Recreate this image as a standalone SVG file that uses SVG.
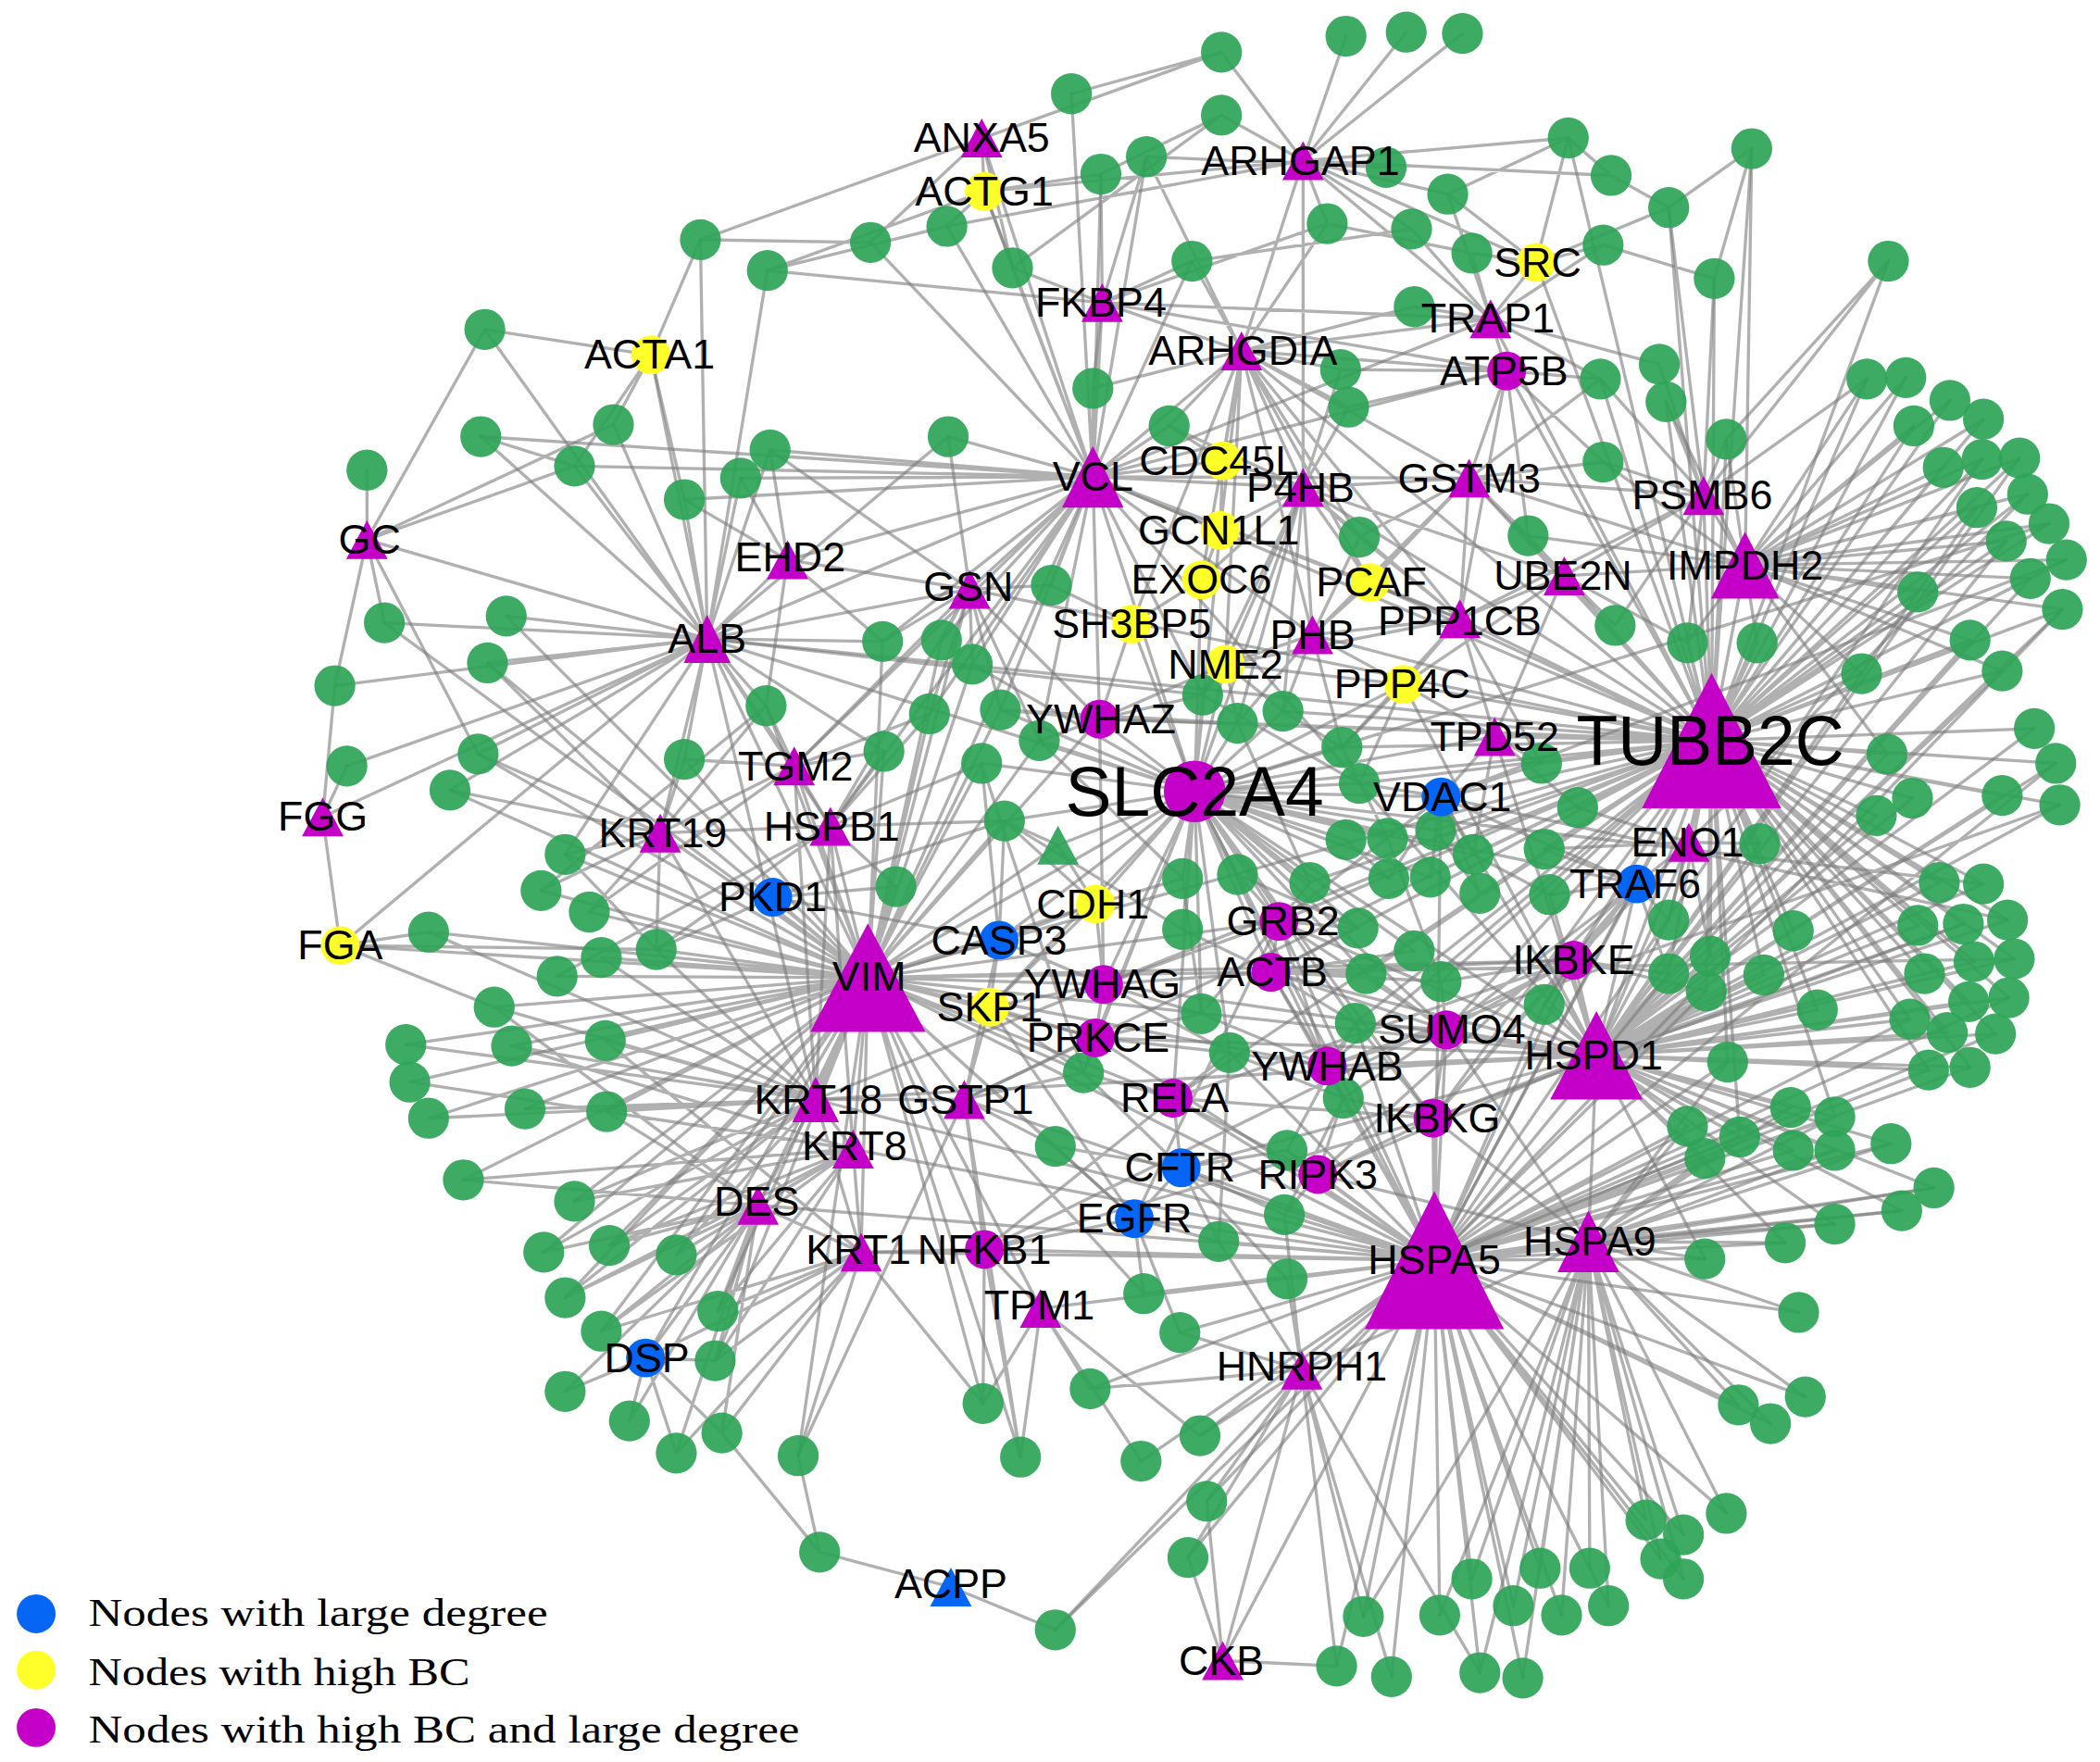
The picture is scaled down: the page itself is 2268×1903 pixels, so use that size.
<svg xmlns="http://www.w3.org/2000/svg" width="2268" height="1903" viewBox="0 0 2268 1903">
<style>
.e{fill:none;stroke:#7c7c7c;stroke-opacity:.6;stroke-width:2.3;stroke-linejoin:round;stroke-linecap:round}
.g{fill:#2ea457;fill-opacity:.92}
.m{fill:#c400c8}
.y{fill:#ffff2a}
.b{fill:#0565f5}
.t{font-family:"Liberation Sans",Arial,sans-serif;font-size:31px;text-anchor:middle;fill:#000}
.big{font-size:52px}
.lg{font-family:"Liberation Serif","Times New Roman",serif;font-size:29px;fill:#000}
</style>
<rect width="2268" height="1903" fill="#fff"/>
<g transform="scale(1.4464)">
<g id="edges" class="e">
<path id="e-TUBB2C" d="M1308 111L1278 553L1280 208M1410 195L1278 553L1244 300M1289 328L1278 553L1260 480M1312 480L1278 553L1394 283M1423 282L1278 553L1456 299M1481 313L1278 553L1429 318M1451 349L1278 553L1480 343M1508 342L1278 553L1514 369M1476 379L1278 553L1530 391M1498 404L1278 553L1543 418M1516 432L1278 553L1540 455M1432 442L1278 553L1471 478M1495 501L1278 553L1390 503M1519 544L1278 553L1535 570M1409 563L1278 553L1495 594M1538 601L1278 553L1428 596M1401 609L1278 553L1151 570M1178 603L1278 553L1153 634M1314 630L1278 553L1246 687M1339 695L1278 553L1277 714M1317 728L1278 553L1357 754M1448 659L1278 553L1481 660M1432 691L1278 553L1466 690M1499 687L1278 553L1437 727M1474 718L1278 553L1504 716M1470 748L1278 553L1500 745M1454 771L1278 553L1490 772M1440 799L1278 553L1002 558M1015 585L1278 553L1157 668M1100 638L1278 553L1072 620M1261 629L1278 553L1222 660M1116 550L1278 553L1303 422M1272 370L1278 553L1076 595M1048 511L1278 553L892 591M1125 277L1278 553L1168 430M1175 717L1278 553L1080 769M1192 788L1278 553L1071 941M949 726L1278 553L955 688M648 730L1278 553L821 537M1090 462L1278 553L1097 357M1113 238L1278 553L1147 196M528 477L1278 553L724 440M1195 283L1278 553L1246 155M1171 103L1278 553L1471 797M1426 761L1278 553M876 820L1278 553L1070 835M991 796L1278 553L824 735M924 540L1278 553L958 531M978 659L1278 553L1020 727M1076 733L1278 553L1012 764M1153 750L1278 553L1246 727M1274 740L1278 553L1290 793M1370 834L1278 553L1299 849M980 474L1278 553L1023 435M927 262L1278 553L973 364M816 356L1278 553L720 821M609 821L1278 553"/>
<path id="e-HSPD1" d="M1448 659L1192 788L1481 660M1432 691L1192 788L1466 690M1499 687L1192 788L1437 727M1474 718L1192 788L1504 716M1470 748L1192 788L1500 745M1426 761L1192 788L1454 771M1490 772L1192 788L1440 799M1471 797L1192 788L1370 834M1299 849L1192 788L1339 859M1370 859L1192 788L1412 854M1444 887L1192 788L1420 904M1274 740L1192 788L1246 727M1357 754L1192 788L1290 793M1337 827L1192 788L1153 750M1157 668L1192 788L1246 687M1498 404L1192 788L1516 432M1540 455L1192 788L1471 478M1495 501L1192 788L1519 544M1535 570L1192 788L1495 594M1538 601L1192 788L1314 630M1339 695L1192 788L1175 717M1080 769L1192 788L1070 835M1222 660L1192 788L1261 629M991 796L1192 788L949 726M955 688L1192 788L1076 595M1186 927L1192 788L984 877M892 591L1192 788L824 735M648 730L1192 788L818 775M882 872L1192 788L1277 714M1317 728L1192 788M1333 928L1192 788L1273 940M1370 914L1192 788L1273 865M1260 841L1192 788L1508 342M1476 379L1192 788L1432 442M1390 503L1192 788L1409 563M1428 596L1192 788L1401 609M1116 550L1192 788L1048 511M816 356L1192 788L609 821"/>
<path id="e-HSPA5" d="M1289 1130L1071 941L1229 1135M1257 1146L1071 941L1240 1164M1257 1179L1071 941L1099 1179M1150 1171L1071 941L1187 1171M1018 1207L1071 941L1075 1206M1130 1199L1071 941L1166 1206M1201 1199L1071 941L998 1244M1039 1252L1071 941L1105 1249M1137 1253L1071 941L1298 1049M1322 1063L1071 941L1348 1043M1343 980L1071 941L1273 940M1333 928L1071 941L1370 914M1273 865L1071 941L1260 841M961 859L1071 941L959 907M910 927L1071 941L961 955M854 966L1071 941L881 995M814 1037L1071 941L896 1072M852 1091L1071 941L901 1121M887 1163L1071 941L1003 820M918 786L1071 941L1012 764M972 1023L1071 941L1186 927M984 877L1071 941L1070 835M991 796L1071 941L882 872M847 910L1071 941L735 933M876 820L1071 941L777 977M643 935L1071 941L637 858M892 591L1071 941L949 726M913 1240L1071 941L1080 769M955 688L1071 941L648 730M609 821L1071 941L566 900M720 821L1071 941L818 775M1426 761L1071 941L1440 799M1471 797L1071 941L1370 834M1412 854L1071 941L788 1217M1339 859L1071 941L1370 859M1444 887L1071 941L1420 904M1290 793L1071 941L1337 827M1299 849L1071 941L1175 717M1222 660L1071 941L1076 595M1153 750L1071 941L1274 740M1246 727L1071 941"/>
<path id="e-HSPA9" d="M1289 1130L1186 927L1229 1135M1257 1146L1186 927L1240 1164M1257 1179L1186 927L1099 1179M1150 1171L1186 927L1187 1171M1018 1207L1186 927L1075 1206M1130 1199L1186 927L1166 1206M1201 1199L1186 927L1298 1049M1322 1063L1186 927L1348 1043M1343 980L1186 927L1333 928M1370 914L1186 927L1273 940M1444 887L1186 927L1420 904M1370 859L1186 927L1412 854M1370 834L1186 927L1273 865M1299 849L1186 927L1260 841M1337 827L1186 927L1290 793M972 1023L1186 927L1070 835M984 877L1186 927L1080 769M1105 1249L1186 927L1137 1253"/>
<path id="e-VIM" d="M422 638L648 730L404 665M440 681L648 730L320 696M449 715L648 730L416 729M490 709L648 730L669 662M369 752L648 730L382 781M452 777L648 730L392 828M453 830L648 730L429 897M455 930L648 730L505 937M303 780L648 730L306 808M733 570L648 730L660 561M750 613L648 730L694 533M572 527L648 730L511 567M747 530L648 730L726 496M703 478L648 730L659 479M776 553L648 730L788 856M609 821L648 730L637 858M493 622L648 730L643 935M566 900L648 730L620 617M593 572L648 730L720 821M577 670L648 730L746 702M739 752L648 730L824 735M818 775L648 730L482 1014M892 591L648 730L724 440M528 477L648 730L816 356M818 675L648 730L821 537M735 933L648 730L777 977M790 631L648 730L254 706M847 910L648 730L876 820M949 726L648 730L809 801M536 979L648 730M357 563L648 730L336 590M364 495L648 730L378 460M287 465L648 730L406 935M422 969L648 730L449 994M346 881L648 730L534 1016M596 1087L648 730L734 1048M762 1088L648 730L955 688M991 796L648 730L1175 717"/>
<path id="e-ALB" d="M523 179L528 477L573 202M458 317L528 477L359 326M429 348L528 477L511 373M553 357L528 477L575 336M708 326L528 477L287 465M378 460L528 477L364 495M250 512L528 477L572 527M357 563L528 477L511 567M659 479L528 477L362 246M336 590L528 477L259 572M274 403L528 477L486 265M588 418L528 477L593 572M493 622L528 477L620 617M241 610L528 477L254 706M724 440L528 477L816 356M609 821L528 477L660 561M422 638L528 477L898 519"/>
<path id="e-VCL" d="M800 70L816 356L822 130M856 117L816 356L707 169M650 181L816 356L756 200M816 290L816 356L873 318M708 326L816 356L575 336M553 357L816 356L511 373M890 195L816 356L659 479M703 478L816 356L726 496M747 530L816 356L694 533M785 437L816 356L429 348M359 326L816 356L823 226M927 262L816 356L733 103M735 143L816 356L913 344M911 396L816 356L724 440M892 591L816 356L588 418M593 572L816 356L620 617M821 537L816 356L973 364M898 519L816 356L776 553M1023 435L816 356L980 474M1090 462L816 356L1097 357M1125 277L816 356L1113 238"/>
<path id="e-SLC2A4" d="M898 519L892 591L924 540M958 531L892 591L1002 558M1015 585L892 591L1005 627M1036 626L892 591L883 656M924 653L892 591L978 659M883 694L892 591L1014 693M897 757L892 591L918 786M776 553L892 591L750 613M733 570L892 591L747 530M726 496L892 591L821 537M915 496L892 591L824 735M818 675L892 591L955 688M949 726L892 591L818 775M1076 595L892 591L746 702M790 631L892 591L845 466M897 433L892 591L739 752M876 820L892 591L1048 511M1116 550L892 591L991 796M1072 620L892 591L1100 638M1037 656L892 591L1068 655M1020 727L892 591L1056 710M1012 764L892 591L809 801M1070 835L892 591L1080 769M1222 660L892 591L528 477M973 364L892 591L911 396"/>
<path id="e-IMPDH2" d="M1394 283L1303 422L1423 282M1456 299L1303 422L1481 313M1429 318L1303 422L1451 349M1480 343L1303 422L1508 342M1514 369L1303 422L1476 379M1530 391L1303 422L1498 404M1543 418L1303 422L1516 432M1540 455L1303 422L1432 442M1471 478L1303 422L1495 501M1390 503L1303 422L1289 328M1260 480L1303 422L1312 480M1197 345L1303 422L1141 400M1409 563L1303 422L1272 370M1168 430L1303 422L1097 357M1244 300L1303 422L1308 111"/>
<path id="e-top" d="M912 39L973 120L1005 27M1050 24L973 120L1092 25M1035 125L973 120L1081 145M991 167L973 120L1054 171M912 86L973 120L1203 131M1171 103L973 120L735 143M1147 196L973 120L927 262M973 364L973 120L1113 238M707 169L735 143L756 200M822 130L735 143L733 103M573 202L735 143M650 181L733 103L756 200M523 179L912 39M573 202L823 226M707 169L973 120M890 195L927 262L991 167M1001 276L927 262L1007 304M816 290L927 262L873 318M856 117L927 262L1015 401M1056 229L927 262L1125 277M1113 238L927 262L823 226M973 364L927 262L913 344M911 396L927 262L1023 435M980 474L927 262L1090 462M845 466L927 262L897 433M915 496L927 262L1097 357M756 200L823 226L890 195M822 130L823 226L856 117M816 290L823 226L991 167M1113 238L823 226L1125 277M1099 189L1113 238L1054 171M1056 229L1113 238L1197 183M1195 283L1113 238L1239 272M1147 196L1113 238L1125 277M1081 145L1113 238M1001 276L1125 277L1007 304M1195 283L1125 277L1197 345M1141 400L1125 277L1097 357M1090 462L1125 277M1001 276L973 364L1007 304M1015 401L973 364L873 318M913 344L973 364L911 396M897 433L973 364L1023 435M980 474L973 364L915 496M1090 462L973 364L1168 430M1097 357L973 364L898 519M924 540L973 364L958 531M1197 345L1097 357L1141 400M1195 283L1097 357L1015 401M1090 462L1097 357L1168 430M1023 435L1097 357L980 474M1206 467L1097 357L1272 370M1289 328L1272 370L1244 300M1197 345L1272 370L1195 283M1239 272L1272 370L1246 155M1280 208L1272 370L1410 195M1206 467L1272 370L1260 480M1168 430L1272 370L1090 462M1394 283L1272 370M1141 400L1168 430L1206 467M1260 480L1168 430L1090 462M1048 511L1168 430L1116 550M1015 401L1090 462L1023 435M980 474L1090 462L1048 511M1116 550L1090 462L1002 558M1151 570L1090 462L915 496M1015 401L980 474L915 496M924 540L980 474L958 531M1023 435L980 474L1048 511M1002 558L980 474M1099 189L1147 196L1197 183M1246 155L1147 196L1081 145M1171 103L1147 196M1410 195L1289 328M1308 111L1246 155M1308 111L1280 208M1171 103L1203 131M873 318L913 344L911 396M911 396L897 433L845 466M785 437L845 466M523 179L650 181M573 202L707 169M756 200L912 86M800 70L912 39M822 130L912 86M856 117L1035 125M890 195L1054 171M991 167L1099 189M1081 145L1171 103M1203 131L1246 155M1197 183L1280 208"/>
<path id="e-left" d="M785 437L724 440L659 479M703 478L724 440L726 496M708 326L724 440L575 336M588 418L724 440L593 572M620 617L724 440L694 533M747 530L724 440L776 553M575 336L588 418L553 357M511 373L588 418L572 527M659 479L588 418M572 527L593 572L660 561M511 567L593 572L694 533M620 617L593 572L493 622M609 821L593 572M511 567L493 622L572 527M357 563L493 622L422 638M404 665L493 622L440 681M490 709L493 622L336 590M609 821L493 622L620 617M660 561L620 617L733 570M694 533L620 617L750 613M609 821L620 617L637 858M490 709L620 617L669 662M382 781L609 821L452 777M392 828L609 821L453 830M429 897L609 821L455 930M505 937L609 821L369 752M637 858L609 821L566 900M643 935L609 821L490 709M449 715L609 821L720 821M429 897L637 858L455 930M505 937L637 858L422 969M449 994L637 858L536 979M566 900L637 858L643 935M534 1016L637 858M406 935L566 900L455 930M422 969L566 900L449 994M536 979L566 900L534 1016M422 1039L566 900L470 1061M505 1085L566 900L539 1070M482 1014L566 900L643 935M536 979L643 935L534 1016M539 1070L643 935L596 1087M734 1048L643 935L505 1085M482 1014L643 935L735 933M534 1016L482 1014L422 1039M470 1061L482 1014L505 1085M539 1070L482 1014M274 351L274 403L362 246M429 348L274 403L458 317M287 465L274 403L357 563M250 512L274 403M259 572L241 610L254 706M250 512L241 610M320 696L254 706L490 709M369 752L254 706M362 246L486 265L458 317M429 348L486 265L511 373M523 179L486 265M359 326L429 348M364 495L493 622M303 780L609 821M306 808L637 858M320 835L609 821M320 835L648 730M346 881L637 858M346 881L566 900M406 935L609 821M422 969L609 821M449 994L643 935M612 1159L710 1185L788 1217M596 1087L612 1159L539 1070M422 638L490 709M404 665L572 527M440 681L593 572M320 696L609 821M416 729L620 617M369 752L566 900M382 781L637 858M452 777L643 935M453 830L566 900"/>
<path id="e-center" d="M788 856L720 821L809 801M735 933L720 821L739 752M818 775L720 821L746 702M762 1088L720 821L596 1087M854 966L720 821M876 820L735 933L1070 835M1175 717L735 933L777 977M734 1048L735 933L762 1088M847 910L735 933M814 1037L777 977L896 1072M852 1091L777 977L734 1048M762 1088L777 977M1070 835L876 820L1175 717M882 872L876 820L984 877M918 786L876 820L809 801M1175 717L1070 835L984 877M1222 660L1070 835L1080 769M1003 820L1070 835L1012 764M847 910L882 872L959 907M910 927L882 872L961 859M788 856L882 872L961 955M955 688L847 910L854 966M881 995L847 910L910 927M739 752L847 910M961 859L984 877L959 907M1003 820L984 877L1222 660M959 907L972 1023L961 955M910 927L972 1023L881 995M896 1072L972 1023L901 1121M887 1163L972 1023L1018 1207M998 1244L972 1023L1039 1252M1105 1249L972 1023L788 1217M913 1240L972 1023L814 1037M998 1244L913 1240L887 1163M901 1121L913 1240M776 553L821 537L898 519M747 530L821 537L924 540M915 496L821 537L824 735M845 466L821 537L724 440M739 752L824 735L818 775M746 702L824 735L818 675M897 757L824 735L918 786M955 688L824 735L949 726M949 726L955 688L924 653M978 659L955 688L1014 693M897 757L955 688L1076 595M1080 769L955 688L991 796M1014 693L949 726L1020 727M1056 710L949 726L1076 733M1012 764L949 726L991 796M1080 769L949 726L1175 717M1036 626L1076 595L1072 620M1100 638L1076 595L1037 656M1068 655L1076 595L1105 667M1015 585L1076 595L1151 570M1116 550L1076 595L1222 660M1157 668L1222 660L1153 634M1246 687L1222 660L1246 727M1153 750L1222 660L1175 717M1080 769L1222 660L1261 629M1153 750L1175 717L1246 727M1274 740L1175 717L1076 733M1080 769L1175 717M1012 764L1080 769L1076 733M1020 727L1080 769L991 796M918 786L991 796L1012 764M1003 820L991 796L897 757M669 662L577 670L490 709M746 702L577 670L750 613M750 613L746 702L733 570M739 752L746 702L818 675M750 613L818 675L883 656M739 752L818 675M818 775L739 752L809 801M809 801L818 775L897 757M918 786L818 775M898 519L915 496L924 540M958 531L915 496L1048 511M1002 558L1048 511L1015 585M1116 550L1048 511L1151 570M1178 603L1261 629L1153 634M1314 630L1261 629L1246 687M1277 714L1261 629M1151 570L1116 550L1178 603M1100 638L1116 550M750 613L790 631L818 675M883 656L897 757M924 653L1014 693M958 531L1002 558L1036 626M898 519L1015 585M1005 627L1037 656M1072 620L1105 667M1100 638L1157 668M924 540L978 659M883 694L949 726M1036 626L1076 733M1003 820L1080 769M918 786L1003 820M1012 764L1070 835M776 553L883 656M747 530L924 540M750 613L883 694M733 570L809 801M809 801L882 872M788 856L847 910M961 859L1012 764M959 907L1003 820M910 927L918 786M1543 418L1076 595M1530 391L892 591M1480 343L1071 941M1514 369L1175 717M1540 455L1071 941M1535 570L1071 941M1538 601L991 796M1481 660L892 591M1499 687L1076 595M1504 716L949 726M1500 745L1071 941M1490 772L1071 941M1466 690L1070 835"/>
</g>
<g id="green-nodes" class="g">
<g id="n1"><circle cx="912" cy="39" r="15.3"/></g>
<g id="n2"><circle cx="1005" cy="27" r="15.3"/></g>
<g id="n3"><circle cx="1050" cy="24" r="15.3"/></g>
<g id="n4"><circle cx="1092" cy="25" r="15.3"/></g>
<g id="n5"><circle cx="800" cy="70" r="15.3"/></g>
<g id="n6"><circle cx="912" cy="86" r="15.3"/></g>
<g id="n7"><circle cx="1171" cy="103" r="15.3"/></g>
<g id="n8"><circle cx="1308" cy="111" r="15.3"/></g>
<g id="n9"><circle cx="856" cy="117" r="15.3"/></g>
<g id="n10"><circle cx="822" cy="130" r="15.3"/></g>
<g id="n11"><circle cx="1035" cy="125" r="15.3"/></g>
<g id="n12"><circle cx="1081" cy="145" r="15.3"/></g>
<g id="n13"><circle cx="1203" cy="131" r="15.3"/></g>
<g id="n14"><circle cx="991" cy="167" r="15.3"/></g>
<g id="n15"><circle cx="1054" cy="171" r="15.3"/></g>
<g id="n16"><circle cx="1099" cy="189" r="15.3"/></g>
<g id="n17"><circle cx="1246" cy="155" r="15.3"/></g>
<g id="n18"><circle cx="1197" cy="183" r="15.3"/></g>
<g id="n19"><circle cx="1280" cy="208" r="15.3"/></g>
<g id="n20"><circle cx="1410" cy="195" r="15.3"/></g>
<g id="n21"><circle cx="1056" cy="229" r="15.3"/></g>
<g id="n22"><circle cx="707" cy="169" r="15.3"/></g>
<g id="n23"><circle cx="650" cy="181" r="15.3"/></g>
<g id="n24"><circle cx="523" cy="179" r="15.3"/></g>
<g id="n25"><circle cx="573" cy="202" r="15.3"/></g>
<g id="n26"><circle cx="756" cy="200" r="15.3"/></g>
<g id="n27"><circle cx="890" cy="195" r="15.3"/></g>
<g id="n28"><circle cx="362" cy="246" r="15.3"/></g>
<g id="n29"><circle cx="1001" cy="276" r="15.3"/></g>
<g id="n30"><circle cx="1007" cy="304" r="15.3"/></g>
<g id="n31"><circle cx="1195" cy="283" r="15.3"/></g>
<g id="n32"><circle cx="1239" cy="272" r="15.3"/></g>
<g id="n33"><circle cx="1244" cy="300" r="15.3"/></g>
<g id="n34"><circle cx="1289" cy="328" r="15.3"/></g>
<g id="n35"><circle cx="1197" cy="345" r="15.3"/></g>
<g id="n36"><circle cx="816" cy="290" r="15.3"/></g>
<g id="n37"><circle cx="873" cy="318" r="15.3"/></g>
<g id="n38"><circle cx="708" cy="326" r="15.3"/></g>
<g id="n39"><circle cx="575" cy="336" r="15.3"/></g>
<g id="n40"><circle cx="553" cy="357" r="15.3"/></g>
<g id="n41"><circle cx="458" cy="317" r="15.3"/></g>
<g id="n42"><circle cx="359" cy="326" r="15.3"/></g>
<g id="n43"><circle cx="429" cy="348" r="15.3"/></g>
<g id="n44"><circle cx="511" cy="373" r="15.3"/></g>
<g id="n45"><circle cx="274" cy="351" r="15.3"/></g>
<g id="n46"><circle cx="1015" cy="401" r="15.3"/></g>
<g id="n47"><circle cx="1141" cy="400" r="15.3"/></g>
<g id="n48"><circle cx="1206" cy="467" r="15.3"/></g>
<g id="n49"><circle cx="1260" cy="480" r="15.3"/></g>
<g id="n50"><circle cx="1312" cy="480" r="15.3"/></g>
<g id="n51"><circle cx="1394" cy="283" r="15.3"/></g>
<g id="n52"><circle cx="1423" cy="282" r="15.3"/></g>
<g id="n53"><circle cx="1456" cy="299" r="15.3"/></g>
<g id="n54"><circle cx="1481" cy="313" r="15.3"/></g>
<g id="n55"><circle cx="1429" cy="318" r="15.3"/></g>
<g id="n56"><circle cx="1451" cy="349" r="15.3"/></g>
<g id="n57"><circle cx="1480" cy="343" r="15.3"/></g>
<g id="n58"><circle cx="1508" cy="342" r="15.3"/></g>
<g id="n59"><circle cx="1514" cy="369" r="15.3"/></g>
<g id="n60"><circle cx="1476" cy="379" r="15.3"/></g>
<g id="n61"><circle cx="1530" cy="391" r="15.3"/></g>
<g id="n62"><circle cx="1498" cy="404" r="15.3"/></g>
<g id="n63"><circle cx="1543" cy="418" r="15.3"/></g>
<g id="n64"><circle cx="1516" cy="432" r="15.3"/></g>
<g id="n65"><circle cx="1540" cy="455" r="15.3"/></g>
<g id="n66"><circle cx="1432" cy="442" r="15.3"/></g>
<g id="n67"><circle cx="1471" cy="478" r="15.3"/></g>
<g id="n68"><circle cx="1495" cy="501" r="15.3"/></g>
<g id="n69"><circle cx="1390" cy="503" r="15.3"/></g>
<g id="n70"><circle cx="1519" cy="544" r="15.3"/></g>
<g id="n71"><circle cx="1535" cy="570" r="15.3"/></g>
<g id="n72"><circle cx="1409" cy="563" r="15.3"/></g>
<g id="n73"><circle cx="1495" cy="594" r="15.3"/></g>
<g id="n74"><circle cx="1538" cy="601" r="15.3"/></g>
<g id="n75"><circle cx="1428" cy="596" r="15.3"/></g>
<g id="n76"><circle cx="1401" cy="609" r="15.3"/></g>
<g id="n77"><circle cx="287" cy="465" r="15.3"/></g>
<g id="n78"><circle cx="378" cy="460" r="15.3"/></g>
<g id="n79"><circle cx="364" cy="495" r="15.3"/></g>
<g id="n80"><circle cx="250" cy="512" r="15.3"/></g>
<g id="n81"><circle cx="659" cy="479" r="15.3"/></g>
<g id="n82"><circle cx="703" cy="478" r="15.3"/></g>
<g id="n83"><circle cx="726" cy="496" r="15.3"/></g>
<g id="n84"><circle cx="747" cy="530" r="15.3"/></g>
<g id="n85"><circle cx="572" cy="527" r="15.3"/></g>
<g id="n86"><circle cx="694" cy="533" r="15.3"/></g>
<g id="n87"><circle cx="660" cy="561" r="15.3"/></g>
<g id="n88"><circle cx="733" cy="570" r="15.3"/></g>
<g id="n89"><circle cx="357" cy="563" r="15.3"/></g>
<g id="n90"><circle cx="259" cy="572" r="15.3"/></g>
<g id="n91"><circle cx="511" cy="567" r="15.3"/></g>
<g id="n92"><circle cx="336" cy="590" r="15.3"/></g>
<g id="n93"><circle cx="750" cy="613" r="15.3"/></g>
<g id="n94"><circle cx="776" cy="553" r="15.3"/></g>
<g id="n95"><circle cx="898" cy="519" r="15.3"/></g>
<g id="n96"><circle cx="924" cy="540" r="15.3"/></g>
<g id="n97"><circle cx="958" cy="531" r="15.3"/></g>
<g id="n98"><circle cx="1002" cy="558" r="15.3"/></g>
<g id="n99"><circle cx="1015" cy="585" r="15.3"/></g>
<g id="n100"><circle cx="1151" cy="570" r="15.3"/></g>
<g id="n101"><circle cx="1005" cy="627" r="15.3"/></g>
<g id="n102"><circle cx="1036" cy="626" r="15.3"/></g>
<g id="n103"><circle cx="1072" cy="620" r="15.3"/></g>
<g id="n104"><circle cx="1100" cy="638" r="15.3"/></g>
<g id="n105"><circle cx="1037" cy="656" r="15.3"/></g>
<g id="n106"><circle cx="1068" cy="655" r="15.3"/></g>
<g id="n107"><circle cx="1105" cy="667" r="15.3"/></g>
<g id="n108"><circle cx="883" cy="656" r="15.3"/></g>
<g id="n109"><circle cx="924" cy="653" r="15.3"/></g>
<g id="n110"><circle cx="978" cy="659" r="15.3"/></g>
<g id="n111"><circle cx="1157" cy="668" r="15.3"/></g>
<g id="n112"><circle cx="883" cy="694" r="15.3"/></g>
<g id="n113"><circle cx="1014" cy="693" r="15.3"/></g>
<g id="n114"><circle cx="1020" cy="727" r="15.3"/></g>
<g id="n115"><circle cx="1056" cy="710" r="15.3"/></g>
<g id="n116"><circle cx="1076" cy="733" r="15.3"/></g>
<g id="n117"><circle cx="897" cy="757" r="15.3"/></g>
<g id="n118"><circle cx="918" cy="786" r="15.3"/></g>
<g id="n119"><circle cx="1012" cy="764" r="15.3"/></g>
<g id="n120"><circle cx="809" cy="801" r="15.3"/></g>
<g id="n121"><circle cx="1153" cy="750" r="15.3"/></g>
<g id="n122"><circle cx="1003" cy="820" r="15.3"/></g>
<g id="n123"><circle cx="1178" cy="603" r="15.3"/></g>
<g id="n124"><circle cx="1153" cy="634" r="15.3"/></g>
<g id="n125"><circle cx="1314" cy="630" r="15.3"/></g>
<g id="n126"><circle cx="1246" cy="687" r="15.3"/></g>
<g id="n127"><circle cx="1339" cy="695" r="15.3"/></g>
<g id="n128"><circle cx="1246" cy="727" r="15.3"/></g>
<g id="n129"><circle cx="1277" cy="714" r="15.3"/></g>
<g id="n130"><circle cx="1274" cy="740" r="15.3"/></g>
<g id="n131"><circle cx="1317" cy="728" r="15.3"/></g>
<g id="n132"><circle cx="1357" cy="754" r="15.3"/></g>
<g id="n133"><circle cx="1290" cy="793" r="15.3"/></g>
<g id="n134"><circle cx="1337" cy="827" r="15.3"/></g>
<g id="n135"><circle cx="1448" cy="659" r="15.3"/></g>
<g id="n136"><circle cx="1481" cy="660" r="15.3"/></g>
<g id="n137"><circle cx="1432" cy="691" r="15.3"/></g>
<g id="n138"><circle cx="1466" cy="690" r="15.3"/></g>
<g id="n139"><circle cx="1499" cy="687" r="15.3"/></g>
<g id="n140"><circle cx="1437" cy="727" r="15.3"/></g>
<g id="n141"><circle cx="1474" cy="718" r="15.3"/></g>
<g id="n142"><circle cx="1504" cy="716" r="15.3"/></g>
<g id="n143"><circle cx="1470" cy="748" r="15.3"/></g>
<g id="n144"><circle cx="1500" cy="745" r="15.3"/></g>
<g id="n145"><circle cx="1426" cy="761" r="15.3"/></g>
<g id="n146"><circle cx="1454" cy="771" r="15.3"/></g>
<g id="n147"><circle cx="1490" cy="772" r="15.3"/></g>
<g id="n148"><circle cx="1440" cy="799" r="15.3"/></g>
<g id="n149"><circle cx="1471" cy="797" r="15.3"/></g>
<g id="n150"><circle cx="1370" cy="834" r="15.3"/></g>
<g id="n151"><circle cx="1260" cy="841" r="15.3"/></g>
<g id="n152"><circle cx="1299" cy="849" r="15.3"/></g>
<g id="n153"><circle cx="1273" cy="865" r="15.3"/></g>
<g id="n154"><circle cx="1339" cy="859" r="15.3"/></g>
<g id="n155"><circle cx="1370" cy="859" r="15.3"/></g>
<g id="n156"><circle cx="1412" cy="854" r="15.3"/></g>
<g id="n157"><circle cx="1444" cy="887" r="15.3"/></g>
<g id="n158"><circle cx="1420" cy="904" r="15.3"/></g>
<g id="n159"><circle cx="1370" cy="914" r="15.3"/></g>
<g id="n160"><circle cx="1333" cy="928" r="15.3"/></g>
<g id="n161"><circle cx="1273" cy="940" r="15.3"/></g>
<g id="n162"><circle cx="1343" cy="980" r="15.3"/></g>
<g id="n163"><circle cx="1298" cy="1049" r="15.3"/></g>
<g id="n164"><circle cx="1322" cy="1063" r="15.3"/></g>
<g id="n165"><circle cx="1348" cy="1043" r="15.3"/></g>
<g id="n166"><circle cx="422" cy="638" r="15.3"/></g>
<g id="n167"><circle cx="404" cy="665" r="15.3"/></g>
<g id="n168"><circle cx="440" cy="681" r="15.3"/></g>
<g id="n169"><circle cx="320" cy="696" r="15.3"/></g>
<g id="n170"><circle cx="449" cy="715" r="15.3"/></g>
<g id="n171"><circle cx="416" cy="729" r="15.3"/></g>
<g id="n172"><circle cx="490" cy="709" r="15.3"/></g>
<g id="n173"><circle cx="669" cy="662" r="15.3"/></g>
<g id="n174"><circle cx="369" cy="752" r="15.3"/></g>
<g id="n175"><circle cx="303" cy="780" r="15.3"/></g>
<g id="n176"><circle cx="382" cy="781" r="15.3"/></g>
<g id="n177"><circle cx="452" cy="777" r="15.3"/></g>
<g id="n178"><circle cx="306" cy="808" r="15.3"/></g>
<g id="n179"><circle cx="320" cy="835" r="15.3"/></g>
<g id="n180"><circle cx="392" cy="828" r="15.3"/></g>
<g id="n181"><circle cx="453" cy="830" r="15.3"/></g>
<g id="n182"><circle cx="346" cy="881" r="15.3"/></g>
<g id="n183"><circle cx="429" cy="897" r="15.3"/></g>
<g id="n184"><circle cx="406" cy="935" r="15.3"/></g>
<g id="n185"><circle cx="455" cy="930" r="15.3"/></g>
<g id="n186"><circle cx="505" cy="937" r="15.3"/></g>
<g id="n187"><circle cx="422" cy="969" r="15.3"/></g>
<g id="n188"><circle cx="449" cy="994" r="15.3"/></g>
<g id="n189"><circle cx="536" cy="979" r="15.3"/></g>
<g id="n190"><circle cx="534" cy="1016" r="15.3"/></g>
<g id="n191"><circle cx="422" cy="1039" r="15.3"/></g>
<g id="n192"><circle cx="470" cy="1061" r="15.3"/></g>
<g id="n193"><circle cx="505" cy="1085" r="15.3"/></g>
<g id="n194"><circle cx="539" cy="1070" r="15.3"/></g>
<g id="n195"><circle cx="596" cy="1087" r="15.3"/></g>
<g id="n196"><circle cx="734" cy="1048" r="15.3"/></g>
<g id="n197"><circle cx="762" cy="1088" r="15.3"/></g>
<g id="n198"><circle cx="788" cy="856" r="15.3"/></g>
<g id="n199"><circle cx="961" cy="859" r="15.3"/></g>
<g id="n200"><circle cx="959" cy="907" r="15.3"/></g>
<g id="n201"><circle cx="910" cy="927" r="15.3"/></g>
<g id="n202"><circle cx="961" cy="955" r="15.3"/></g>
<g id="n203"><circle cx="854" cy="966" r="15.3"/></g>
<g id="n204"><circle cx="881" cy="995" r="15.3"/></g>
<g id="n205"><circle cx="814" cy="1037" r="15.3"/></g>
<g id="n206"><circle cx="896" cy="1072" r="15.3"/></g>
<g id="n207"><circle cx="852" cy="1091" r="15.3"/></g>
<g id="n208"><circle cx="901" cy="1121" r="15.3"/></g>
<g id="n209"><circle cx="887" cy="1163" r="15.3"/></g>
<g id="n210"><circle cx="612" cy="1159" r="15.3"/></g>
<g id="n212"><circle cx="1289" cy="1130" r="15.3"/></g>
<g id="n213"><circle cx="1229" cy="1135" r="15.3"/></g>
<g id="n214"><circle cx="1257" cy="1146" r="15.3"/></g>
<g id="n215"><circle cx="1240" cy="1164" r="15.3"/></g>
<g id="n216"><circle cx="1257" cy="1179" r="15.3"/></g>
<g id="n217"><circle cx="1099" cy="1179" r="15.3"/></g>
<g id="n218"><circle cx="1150" cy="1171" r="15.3"/></g>
<g id="n219"><circle cx="1187" cy="1171" r="15.3"/></g>
<g id="n220"><circle cx="1018" cy="1207" r="15.3"/></g>
<g id="n221"><circle cx="1075" cy="1206" r="15.3"/></g>
<g id="n222"><circle cx="1130" cy="1199" r="15.3"/></g>
<g id="n223"><circle cx="1166" cy="1206" r="15.3"/></g>
<g id="n224"><circle cx="1201" cy="1199" r="15.3"/></g>
<g id="n225"><circle cx="998" cy="1244" r="15.3"/></g>
<g id="n226"><circle cx="1039" cy="1252" r="15.3"/></g>
<g id="n227"><circle cx="1105" cy="1249" r="15.3"/></g>
<g id="n228"><circle cx="1137" cy="1253" r="15.3"/></g>
<g id="n229"><circle cx="788" cy="1217" r="15.3"/></g>
<g id="n230"><circle cx="785" cy="437" r="15.3"/></g>
<g id="n231"><polygon points="790,616.5 774.5,645.5 805.5,645.5"/></g>
</g>
<g id="labeled-nodes" class="t">
<g id="ANXA5"><polygon class="m" points="733,88.5 717.5,117.5 748.5,117.5"/><text x="733" y="113.5">ANXA5</text></g>
<g id="ACTG1"><circle class="y" cx="735" cy="143" r="14.5"/><text x="735" y="153.5">ACTG1</text></g>
<g id="ARHGAP1"><polygon class="m" points="973,105.5 957.5,134.5 988.5,134.5"/><text x="971" y="130.5">ARHGAP1</text></g>
<g id="SRC"><circle class="y" cx="1147" cy="196" r="14.5"/><text x="1148" y="206.5">SRC</text></g>
<g id="FKBP4"><polygon class="m" points="823,211.5 807.5,240.5 838.5,240.5"/><text x="822" y="236.5">FKBP4</text></g>
<g id="TRAP1"><polygon class="m" points="1113,223.5 1097.5,252.5 1128.5,252.5"/><text x="1111" y="248.5">TRAP1</text></g>
<g id="ARHGDIA"><polygon class="m" points="927,247.5 911.5,276.5 942.5,276.5"/><text x="928" y="272.5">ARHGDIA</text></g>
<g id="ACTA1"><circle class="y" cx="486" cy="265" r="14.5"/><text x="485" y="275.5">ACTA1</text></g>
<g id="ATP5B"><circle class="m" cx="1125" cy="277" r="14.5"/><text x="1123" y="287.5">ATP5B</text></g>
<g id="CDC45L"><circle class="y" cx="913" cy="344" r="14.5"/><text x="910" y="354.5">CDC45L</text></g>
<g id="VCL"><polygon class="m" points="816,333 793,379 839,379"/><text x="816" y="366.5">VCL</text></g>
<g id="P4HB"><polygon class="m" points="973,349.5 957.5,378.5 988.5,378.5"/><text x="971" y="374.5">P4HB</text></g>
<g id="GSTM3"><polygon class="m" points="1097,342.5 1081.5,371.5 1112.5,371.5"/><text x="1097" y="367.5">GSTM3</text></g>
<g id="PSMB6"><polygon class="m" points="1272,355.5 1256.5,384.5 1287.5,384.5"/><text x="1271" y="380.5">PSMB6</text></g>
<g id="GC"><polygon class="m" points="274,388.5 258.5,417.5 289.5,417.5"/><text x="276" y="413.5">GC</text></g>
<g id="GCN1L1"><circle class="y" cx="911" cy="396" r="14.5"/><text x="910" y="406.5">GCN1L1</text></g>
<g id="EHD2"><polygon class="m" points="588,403.5 572.5,432.5 603.5,432.5"/><text x="590" y="426.5">EHD2</text></g>
<g id="IMPDH2"><polygon class="m" points="1303,397 1277.5,447 1328.5,447"/><text x="1303" y="432.5">IMPDH2</text></g>
<g id="UBE2N"><polygon class="m" points="1168,415.5 1152.5,444.5 1183.5,444.5"/><text x="1167" y="440.5">UBE2N</text></g>
<g id="EXOC6"><circle class="y" cx="897" cy="433" r="14.5"/><text x="897" y="443.5">EXOC6</text></g>
<g id="GSN"><polygon class="m" points="724,425.5 708.5,454.5 739.5,454.5"/><text x="723" y="448.5">GSN</text></g>
<g id="PCAF"><circle class="y" cx="1023" cy="435" r="14.5"/><text x="1024" y="445.5">PCAF</text></g>
<g id="PPP1CB"><polygon class="m" points="1090,447.5 1074.5,476.5 1105.5,476.5"/><text x="1090" y="474.5">PPP1CB</text></g>
<g id="PHB"><polygon class="m" points="980,459.5 964.5,488.5 995.5,488.5"/><text x="980" y="484.5">PHB</text></g>
<g id="SH3BP5"><circle class="y" cx="845" cy="466" r="14.5"/><text x="845" y="476.5">SH3BP5</text></g>
<g id="ALB"><polygon class="m" points="528,459 510.5,495 545.5,495"/><text x="528" y="487.5">ALB</text></g>
<g id="NME2"><circle class="y" cx="915" cy="496" r="14.5"/><text x="915" y="506.5">NME2</text></g>
<g id="PPP4C"><circle class="y" cx="1048" cy="511" r="14.5"/><text x="1047" y="521.5">PPP4C</text></g>
<g id="YWHAZ"><circle class="m" cx="821" cy="537" r="14.5"/><text x="822" y="547.5">YWHAZ</text></g>
<g id="TPD52"><polygon class="m" points="1116,535.5 1100.5,564.5 1131.5,564.5"/><text x="1116" y="560.5">TPD52</text></g>
<g id="TUBB2C"><polygon class="m" points="1278,502.5 1226,603.5 1330,603.5"/><text class="big" x="1277" y="571" textLength="200" lengthAdjust="spacingAndGlyphs">TUBB2C</text></g>
<g id="SLC2A4"><circle class="m" cx="892" cy="591" r="23"/><text class="big" x="892" y="609" textLength="193" lengthAdjust="spacingAndGlyphs">SLC2A4</text></g>
<g id="VDAC1"><circle class="b" cx="1076" cy="595" r="14.5"/><text x="1077" y="605.5">VDAC1</text></g>
<g id="TGM2"><polygon class="m" points="593,557.5 577.5,586.5 608.5,586.5"/><text x="594" y="582.5">TGM2</text></g>
<g id="FGG"><polygon class="m" points="241,595.5 225.5,624.5 256.5,624.5"/><text x="241" y="620.5">FGG</text></g>
<g id="KRT19"><polygon class="m" points="493,607.5 477.5,636.5 508.5,636.5"/><text x="495" y="632.5">KRT19</text></g>
<g id="HSPB1"><polygon class="m" points="620,602.5 604.5,631.5 635.5,631.5"/><text x="621" y="627.5">HSPB1</text></g>
<g id="ENO1"><polygon class="m" points="1261,614.5 1245.5,643.5 1276.5,643.5"/><text x="1260" y="639.5">ENO1</text></g>
<g id="PKD1"><circle class="b" cx="577" cy="670" r="14.5"/><text x="577" y="680.5">PKD1</text></g>
<g id="CDH1"><circle class="y" cx="818" cy="675" r="14.5"/><text x="816" y="685.5">CDH1</text></g>
<g id="TRAF6"><circle class="b" cx="1222" cy="660" r="14.5"/><text x="1221" y="670.5">TRAF6</text></g>
<g id="GRB2"><circle class="m" cx="955" cy="688" r="14.5"/><text x="958" y="698.5">GRB2</text></g>
<g id="FGA"><circle class="y" cx="254" cy="706" r="14.5"/><text x="254" y="716.5">FGA</text></g>
<g id="CASP3"><circle class="b" cx="746" cy="702" r="14.5"/><text x="746" y="712.5">CASP3</text></g>
<g id="VIM"><polygon class="m" points="648,689.5 605,770.5 691,770.5"/><text x="649" y="740">VIM</text></g>
<g id="ACTB"><circle class="m" cx="949" cy="726" r="14.5"/><text x="950" y="736.5">ACTB</text></g>
<g id="IKBKE"><circle class="m" cx="1175" cy="717" r="14.5"/><text x="1175" y="727.5">IKBKE</text></g>
<g id="YWHAG"><circle class="m" cx="824" cy="735" r="14.5"/><text x="823" y="745.5">YWHAG</text></g>
<g id="SKP1"><circle class="y" cx="739" cy="752" r="14.5"/><text x="739" y="762.5">SKP1</text></g>
<g id="SUMO4"><circle class="m" cx="1080" cy="769" r="14.5"/><text x="1084" y="779.5">SUMO4</text></g>
<g id="PRKCE"><circle class="m" cx="818" cy="775" r="14.5"/><text x="820" y="785.5">PRKCE</text></g>
<g id="YWHAB"><circle class="m" cx="991" cy="796" r="14.5"/><text x="991" y="806.5">YWHAB</text></g>
<g id="HSPD1"><polygon class="m" points="1192,755 1157.5,821 1226.5,821"/><text x="1190" y="798.5">HSPD1</text></g>
<g id="KRT18"><polygon class="m" points="609,804 591.5,838 626.5,838"/><text x="611" y="831.5">KRT18</text></g>
<g id="GSTP1"><polygon class="m" points="720,806.5 704.5,835.5 735.5,835.5"/><text x="721" y="831.5">GSTP1</text></g>
<g id="RELA"><circle class="m" cx="876" cy="820" r="14.5"/><text x="877" y="830.5">RELA</text></g>
<g id="IKBKG"><circle class="m" cx="1070" cy="835" r="14.5"/><text x="1073" y="845.5">IKBKG</text></g>
<g id="KRT8"><polygon class="m" points="637,843.5 621.5,872.5 652.5,872.5"/><text x="638" y="866.5">KRT8</text></g>
<g id="CFTR"><circle class="b" cx="882" cy="872" r="14.5"/><text x="881" y="882.5">CFTR</text></g>
<g id="RIPK3"><circle class="m" cx="984" cy="877" r="14.5"/><text x="984" y="887.5">RIPK3</text></g>
<g id="DES"><polygon class="m" points="566,885.5 550.5,914.5 581.5,914.5"/><text x="565" y="907.5">DES</text></g>
<g id="EGFR"><circle class="b" cx="847" cy="910" r="14.5"/><text x="847" y="920.5">EGFR</text></g>
<g id="HSPA9"><polygon class="m" points="1186,904 1163,950 1209,950"/><text x="1187" y="937.5">HSPA9</text></g>
<g id="HSPA5"><polygon class="m" points="1071,889.5 1019,992.5 1123,992.5"/><text x="1071" y="951">HSPA5</text></g>
<g id="KRT1"><polygon class="m" points="643,920.5 627.5,949.5 658.5,949.5"/><text x="641" y="943.5">KRT1</text></g>
<g id="NFKB1"><circle class="m" cx="735" cy="933" r="14.5"/><text x="735" y="943.5">NFKB1</text></g>
<g id="TPM1"><polygon class="m" points="777,962.5 761.5,991.5 792.5,991.5"/><text x="776" y="985.5">TPM1</text></g>
<g id="DSP"><circle class="b" cx="482" cy="1014" r="14.5"/><text x="483" y="1024.5">DSP</text></g>
<g id="HNRPH1"><polygon class="m" points="972,1008.5 956.5,1037.5 987.5,1037.5"/><text x="972" y="1030.5">HNRPH1</text></g>
<g id="ACPP"><polygon class="b" points="710,1170.5 694.5,1199.5 725.5,1199.5"/><text x="710" y="1193.5">ACPP</text></g>
<g id="CKB"><polygon class="m" points="913,1225.5 897.5,1254.5 928.5,1254.5"/><text x="912" y="1250.5">CKB</text></g>
</g>
<g id="legend">
<circle class="b" cx="27" cy="1205" r="14.5"/>
<text class="lg" x="66" y="1214" textLength="343" lengthAdjust="spacingAndGlyphs">Nodes with large degree</text>
<circle class="y" cx="27" cy="1247" r="14.5"/>
<text class="lg" x="66" y="1258" textLength="285" lengthAdjust="spacingAndGlyphs">Nodes with high BC</text>
<circle class="m" cx="27" cy="1290" r="14.5"/>
<text class="lg" x="66" y="1301" textLength="531" lengthAdjust="spacingAndGlyphs">Nodes with high BC and large degree</text>
</g>
</g>
</svg>
